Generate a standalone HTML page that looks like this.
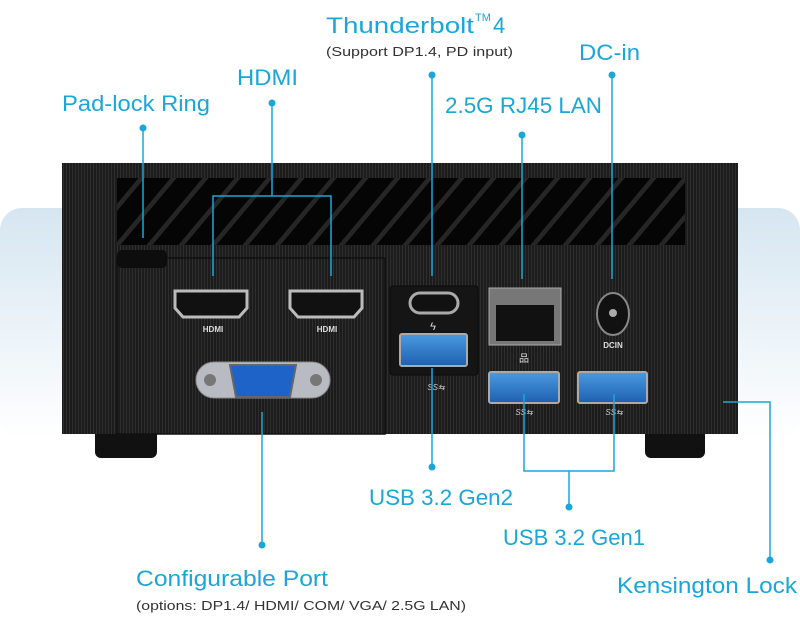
<!DOCTYPE html>
<html><head><meta charset="utf-8"><style>html,body{margin:0;padding:0;background:#fff}svg{display:block}</style></head><body>
<svg width="800" height="626" viewBox="0 0 800 626" xmlns="http://www.w3.org/2000/svg" font-family="Liberation Sans, sans-serif">
<defs>
<linearGradient id="bg" x1="0" y1="0" x2="0" y2="1"><stop offset="0" stop-color="#d6e6f1"/><stop offset="1" stop-color="#ffffff"/></linearGradient>
<pattern id="rib" width="3" height="10" patternUnits="userSpaceOnUse"><rect width="3" height="10" fill="#1c1c1c"/><rect width="1" height="10" fill="#2e2e2e"/></pattern>
<pattern id="fin" width="32" height="70" patternUnits="userSpaceOnUse" patternTransform="skewX(-40)"><rect width="32" height="70" fill="#050505"/><rect x="0" width="6" height="70" fill="#262626"/></pattern>
<linearGradient id="usb" x1="0" y1="0" x2="0" y2="1"><stop offset="0" stop-color="#4a9be0"/><stop offset="1" stop-color="#1f5fb0"/></linearGradient>
</defs>
<rect x="0" y="208" width="800" height="230" rx="22" fill="url(#bg)"/>
<rect x="95" y="428" width="62" height="30" rx="6" fill="#111"/>
<rect x="645" y="428" width="60" height="30" rx="6" fill="#111"/>
<rect x="62" y="163" width="676" height="271" fill="url(#rib)"/>
<rect x="117" y="178" width="568" height="67" fill="url(#fin)"/>
<rect x="117" y="258" width="268" height="176" fill="none" stroke="#101010" stroke-width="1.5"/>
<rect x="390" y="286" width="88" height="89" rx="3" fill="#151515" stroke="#0a0a0a"/>
<rect x="117" y="250" width="50" height="18" rx="5" fill="#0d0d0d"/>
<g fill="#111" stroke="#bbb" stroke-width="3">
<path d="M175 291 h72 v17 l-8 9 h-56 l-8 -9z"/>
<path d="M290 291 h72 v17 l-8 9 h-56 l-8 -9z"/>
</g>
<text x="213" y="332" font-size="8" fill="#ddd" text-anchor="middle" font-weight="bold">HDMI</text>
<text x="327" y="332" font-size="8" fill="#ddd" text-anchor="middle" font-weight="bold">HDMI</text>
<rect x="196" y="362" width="134" height="36" rx="18" fill="#b8bcc2" stroke="#888"/>
<path d="M230 365 h66 l-6 32 h-54z" fill="#1e64c8" stroke="#666" stroke-width="2"/>
<circle cx="210" cy="380" r="6" fill="#777"/><circle cx="316" cy="380" r="6" fill="#777"/>
<rect x="410" y="293" width="48" height="20" rx="10" fill="#111" stroke="#aaa" stroke-width="3"/>
<text x="433" y="330" font-size="11" fill="#ddd" text-anchor="middle">ϟ</text>
<rect x="400" y="334" width="67" height="32" rx="2" fill="url(#usb)" stroke="#aaa" stroke-width="2"/>
<text x="436" y="390" font-size="8" fill="#ccc" text-anchor="middle" font-style="italic">SS⇆</text>
<rect x="489" y="288" width="72" height="57" fill="#777" stroke="#aaa"/>
<rect x="496" y="305" width="58" height="36" fill="#111"/>
<text x="524" y="362" font-size="10" fill="#ddd" text-anchor="middle">品</text>
<ellipse cx="613" cy="314" rx="16" ry="21" fill="#111" stroke="#888" stroke-width="2"/>
<circle cx="613" cy="313" r="4" fill="#aaa"/>
<text x="613" y="348" font-size="8" fill="#ddd" text-anchor="middle" font-weight="bold">DCIN</text>
<rect x="489" y="372" width="70" height="31" rx="2" fill="url(#usb)" stroke="#aaa" stroke-width="2"/>
<rect x="578" y="372" width="69" height="31" rx="2" fill="url(#usb)" stroke="#aaa" stroke-width="2"/>
<text x="524" y="415" font-size="8" fill="#ccc" text-anchor="middle" font-style="italic">SS⇆</text>
<text x="614" y="415" font-size="8" fill="#ccc" text-anchor="middle" font-style="italic">SS⇆</text>
<g stroke="#1aa6d9" stroke-width="1.5" fill="none">
<path d="M143 128 V238"/>
<path d="M272 103 V196 M213 276 V196 H331 V276"/>
<path d="M432 75 V276"/>
<path d="M522 135 V279"/>
<path d="M612 75 V279"/>
<path d="M432 368 V467"/>
<path d="M524 394 V471 H614 V394 M569 471 V507"/>
<path d="M262 412 V545"/>
<path d="M723 402 H770 V560"/>
</g>
<g fill="#1aa6d9">
<circle cx="143" cy="128" r="3.5"/><circle cx="272" cy="103" r="3.5"/><circle cx="432" cy="75" r="3.5"/>
<circle cx="522" cy="135" r="3.5"/><circle cx="612" cy="75" r="3.5"/><circle cx="432" cy="467" r="3.5"/>
<circle cx="569" cy="507" r="3.5"/><circle cx="262" cy="545" r="3.5"/><circle cx="770" cy="560" r="3.5"/>
</g>
<g fill="#1aa6d9" font-size="22">
<text x="62" y="111" textLength="148" lengthAdjust="spacingAndGlyphs">Pad-lock Ring</text>
<text x="237" y="85" textLength="61" lengthAdjust="spacingAndGlyphs">HDMI</text>
<text x="326" y="33" textLength="148" lengthAdjust="spacingAndGlyphs">Thunderbolt</text>
<text x="475" y="21" font-size="11">TM</text>
<text x="493" y="33">4</text>
<text x="579" y="60" textLength="61" lengthAdjust="spacingAndGlyphs">DC-in</text>
<text x="445" y="113" textLength="157" lengthAdjust="spacingAndGlyphs">2.5G RJ45 LAN</text>
<text x="369" y="505" textLength="144" lengthAdjust="spacingAndGlyphs">USB 3.2 Gen2</text>
<text x="503" y="545" textLength="142" lengthAdjust="spacingAndGlyphs">USB 3.2 Gen1</text>
<text x="136" y="586" textLength="192" lengthAdjust="spacingAndGlyphs">Configurable Port</text>
<text x="617" y="593" textLength="180" lengthAdjust="spacingAndGlyphs">Kensington Lock</text>
</g>
<g fill="#333" font-size="13">
<text x="326" y="56" textLength="187" lengthAdjust="spacingAndGlyphs">(Support DP1.4, PD input)</text>
<text x="136" y="610" textLength="330" lengthAdjust="spacingAndGlyphs">(options: DP1.4/ HDMI/ COM/ VGA/ 2.5G LAN)</text>
</g>
</svg>
</body></html>
